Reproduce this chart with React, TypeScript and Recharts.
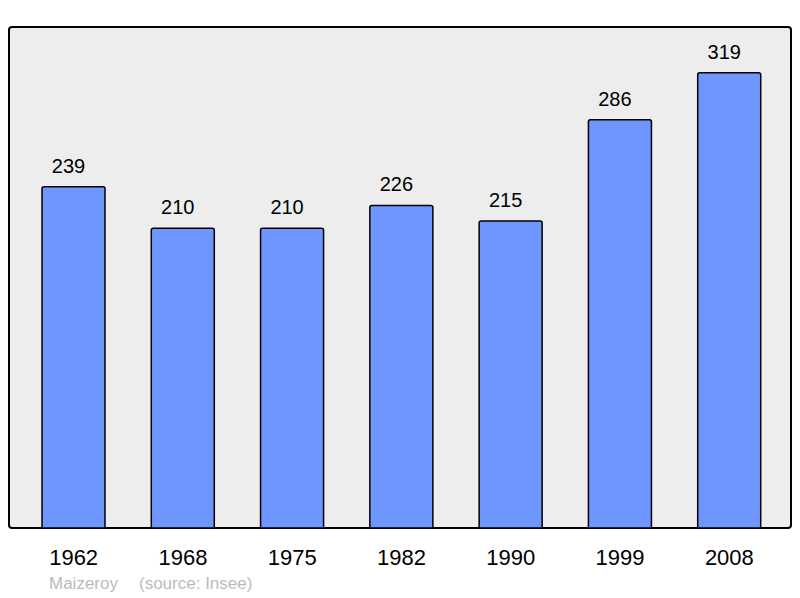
import React from "react";
import { BarChart, Bar, XAxis, YAxis, LabelList } from "recharts";

const years = ["1962", "1968", "1975", "1982", "1990", "1999", "2008"];
const population = [239, 210, 210, 226, 215, 286, 319];
const townName = "Maizeroy";
const sourceText = "(source: Insee)";

const data = years.map((y, i) => ({ year: y, pop: population[i] }));

const FONT = "'Liberation Sans', Arial, sans-serif";

export default function App() {
  return (
    <div style={{ position: "absolute", left: 0, top: 0, width: 800, height: 598, fontFamily: FONT }}>
      <div
        style={{
          position: "absolute",
          left: 8,
          top: 26,
          width: 784,
          height: 503,
          boxSizing: "border-box",
          border: "2px solid #000",
          borderRadius: 4,
          background: "#ededed",
        }}
      />
      <div style={{ position: "absolute", left: 0, top: 0 }}>
        <BarChart
          width={800}
          height={598}
          data={data}
          margin={{ top: 27, right: 9, left: 9, bottom: 0 }}
        >
          <YAxis hide domain={[0, 351]} type="number" />
          <XAxis
            dataKey="year"
            height={70}
            axisLine={false}
            tickLine={false}
            tickMargin={15}
            padding={{ left: 10, right: 7 }}
            tick={{ fill: "#000", fontSize: 22, fontFamily: FONT }}
            interval={0}
          />
          <Bar
            dataKey="pop"
            fill="#6f96ff"
            stroke="#000"
            strokeWidth={1.5}
            barSize={63}
            radius={[2, 2, 0, 0]}
            isAnimationActive={false}
          >
            <LabelList
              dataKey="pop"
              position="top"
              offset={14}
              dx={-5}
              style={{ fill: "#000", fontSize: 20, fontFamily: FONT }}
            />
          </Bar>
        </BarChart>
      </div>
      <div style={{ position: "absolute", left: 49, top: 574, fontSize: 17, color: "#bbbbbb" }}>{townName}</div>
      <div style={{ position: "absolute", left: 139, top: 574, fontSize: 17, color: "#bbbbbb" }}>{sourceText}</div>
    </div>
  );
}
